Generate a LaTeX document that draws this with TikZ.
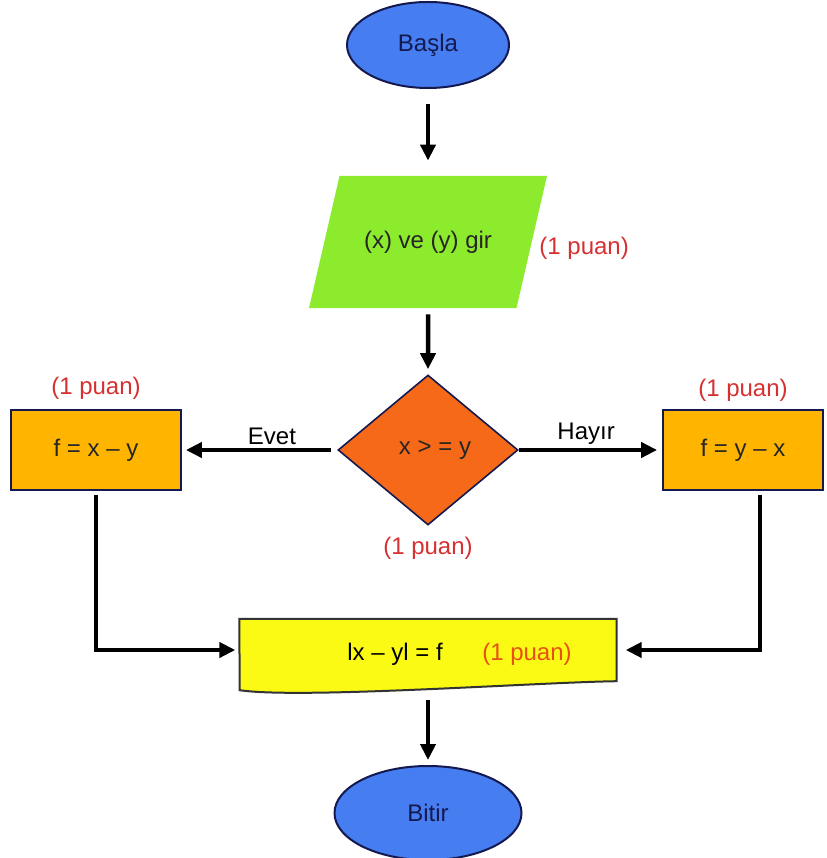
\documentclass[tikz,border=0pt]{standalone}
\usepackage{fontspec}
\setmainfont{Liberation Sans}
\usepackage{tikz}
\usetikzlibrary{shapes.geometric, positioning, arrows.meta, backgrounds}

\definecolor{startblue}{RGB}{70,125,240}
\definecolor{inputgreen}{RGB}{140,235,45}
\definecolor{decorange}{RGB}{245,105,25}
\definecolor{boxorange}{RGB}{255,180,0}
\definecolor{docyellow}{RGB}{250,250,20}
\definecolor{edgenavy}{RGB}{20,25,80}
\definecolor{puanred}{RGB}{214,48,49}
\definecolor{docred}{RGB}{232,80,20}

\tikzset{
	term/.style={ellipse, draw=edgenavy, line width=2pt, fill=startblue, text=edgenavy},
	input/.style={trapezium, trapezium left angle=77, trapezium right angle=103, trapezium stretches body=true, fill=inputgreen, minimum width=238pt, inner ysep=55pt, text=black!85},
	decision/.style={diamond, draw=edgenavy, line width=1.6pt, fill=decorange, minimum width=180pt, minimum height=150pt, inner sep=0pt, text=black!85},
	process/.style={rectangle, draw=edgenavy, line width=1.8pt, fill=boxorange, minimum height=80pt, text=black!85},
	docbox/.style={rectangle, minimum width=377pt, minimum height=62pt},
	puan/.style={text=puanred},
	flow/.style={line width=4.5pt, -{Triangle[length=16pt,width=15pt]}},
}

\begin{document}
\begin{tikzpicture}[x=1pt, y=-1pt, node distance=200pt, font=\fontsize{24}{28}\selectfont]
			\useasboundingbox (0,0) rectangle (826,858);
			\node[term, minimum width=162pt, minimum height=86pt] (basla) at (428,45) {Başla};
			\node[input, below of=basla, yshift=3pt] (gir) {(x) ve (y) gir};
			\node[puan, right=4pt of gir, yshift=-6pt] (girpuan) {(1 puan)};
			\node[decision, below of=gir, yshift=-8pt] (dec) {\hspace{14pt}x > = y};
			\node[puan, below=8pt of dec] (decpuan) {(1 puan)};
			\node[process, minimum width=170pt, left of=dec, xshift=-132pt] (lbox) {f = x -- y};
			\node[puan, above=6pt of lbox] (lpuan) {(1 puan)};
			\node[process, minimum width=160pt, right of=dec, xshift=115pt] (rbox) {f = y -- x};
			\node[puan, above=4pt of rbox] (rpuan) {(1 puan)};
			\node[docbox, below of=dec] (doc) {};
			\node at ([xshift=-33pt, yshift=-4pt]doc.center) (docf) {lx -- yl = f};
			\node[text=docred] at ([xshift=99pt, yshift=-4pt]doc.center) (docpuan) {(1 puan)};
			\node[term, minimum width=187pt, minimum height=94pt, below of=doc, yshift=37pt] (bitir) {Bitir};
			\begin{scope}[on background layer]
				\draw[draw=black!80, line width=2pt, fill=docyellow]
				(doc.north west) -- (doc.north east) -- (doc.south east)
				.. controls +(-77,1) and +(60,9) .. ++(-377,9) -- cycle;
			\end{scope}
			\draw[flow, shorten <=15pt, shorten >=15pt] (basla) -- (gir);
			\draw[flow, shorten <=6pt, shorten >=5pt] (gir) -- (dec);
			\draw[flow, shorten <=6pt, shorten >=4pt] (dec) -- node[above, pos=0.42] (evet) {Evet} (lbox);
			\draw[flow, shorten >=5pt] (dec) -- node[above, pos=0.47] (hayir) {Hayır} (rbox);
			\draw[flow, shorten <=4pt, shorten >=4pt] (lbox.south) |- (doc.west);
			\draw[flow, shorten <=4pt, shorten >=9pt] ([xshift=17pt]rbox.south) |- (doc.east);
			\draw[flow, shorten <=10pt, shorten >=5pt] ([yshift=-9pt]doc.south) -- (bitir);
		\end{tikzpicture}
\end{document}
